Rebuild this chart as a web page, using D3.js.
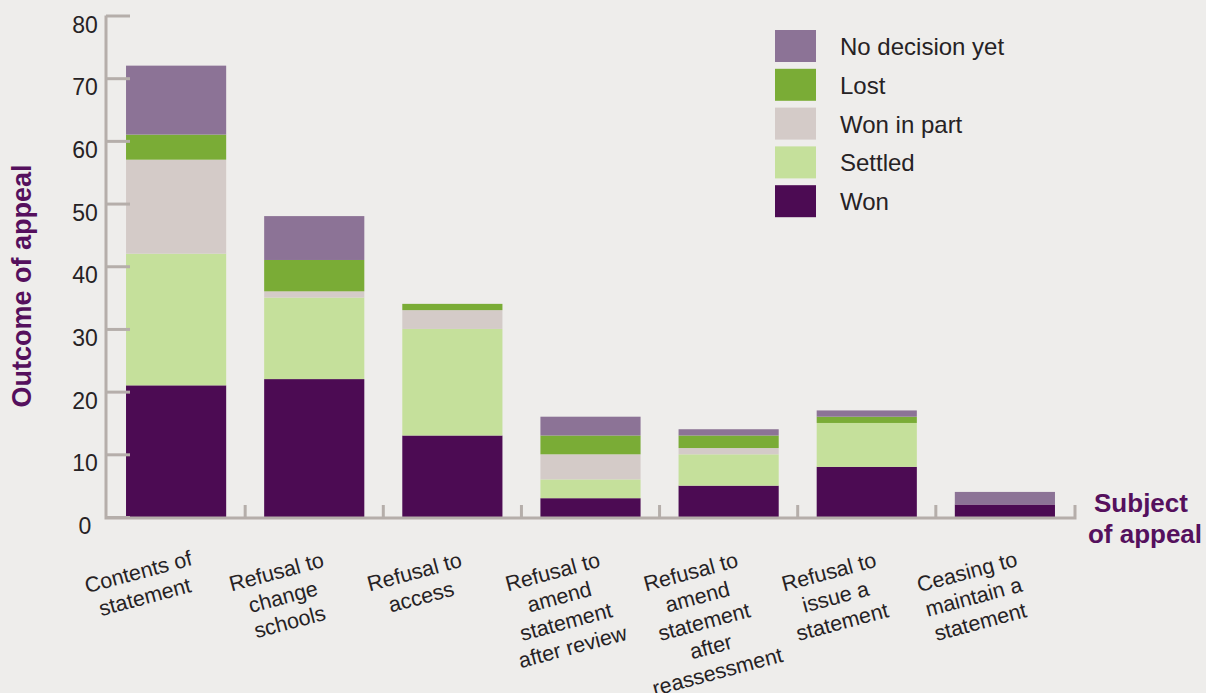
<!DOCTYPE html>
<html>
<head>
<meta charset="utf-8">
<script src="https://cdn.jsdelivr.net/npm/d3@7"></script>
<style>
  html, body { margin: 0; padding: 0; background: #eeedeb; }
  svg { display: block; font-family: "Liberation Sans", Arial, sans-serif; }
</style>
</head>
<body>
<div class="js-vis"></div>
<script>
// Subjects of appeal (line breaks as drawn under each bar)
const categories = [
  ["Contents of", "statement"],
  ["Refusal to", "change", "schools"],
  ["Refusal to", "access"],
  ["Refusal to", "amend", "statement", "after review"],
  ["Refusal to", "amend", "statement", "after", "reassessment"],
  ["Refusal to", "issue a", "statement"],
  ["Ceasing to", "maintain a", "statement"]
]

// Outcomes, one value per subject
const won        = [21, 22, 13, 3, 5, 8, 2]
const settled    = [21, 13, 17, 3, 5, 7, 0]
const wonInPart  = [15, 1, 3, 4, 1, 0, 0]
const lost       = [4, 5, 1, 3, 2, 1, 0]
const noDecision = [11, 7, 0, 3, 1, 1, 2]

const seriesNames = ["Won", "Settled", "Won in part", "Lost", "No decision yet"]
const yTicks = [0, 10, 20, 30, 40, 50, 60, 70, 80]

const colors = {
  "Won": "#4c0b53",
  "Settled": "#c5e09b",
  "Won in part": "#d4cbc8",
  "Lost": "#7aac36",
  "No decision yet": "#8c7396"
}

const width = 1206, height = 693
const axisColor = "#b5aeaa", textColor = "#262224", titleColor = "#55105d"

const rows = categories.map((c, i) => ({
  key: i,
  "Won": won[i],
  "Settled": settled[i],
  "Won in part": wonInPart[i],
  "Lost": lost[i],
  "No decision yet": noDecision[i]
}))

const stacked = d3.stack().keys(seriesNames)(rows)

const x = d3.scaleBand()
  .domain(d3.range(categories.length))
  .range([106, 1075])
  .paddingInner(0.275)
  .paddingOuter(0.145)

const y = d3.scaleLinear()
  .domain([0, 80])
  .range([517, 15.5])

const svg = d3.select(".js-vis").append("svg")
  .attr("width", width)
  .attr("height", height)

svg.append("rect")
  .attr("width", width).attr("height", height)
  .attr("fill", "#eeedeb")

// bars
svg.append("g").selectAll("g")
  .data(stacked)
.enter().append("g")
  .attr("fill", d => colors[d.key])
.selectAll("rect")
  .data(d => d)
.enter().append("rect")
  .attr("x", (d, i) => x(i))
  .attr("width", x.bandwidth())
  .attr("y", d => y(d[1]))
  .attr("height", d => y(d[0]) - y(d[1]))

// y axis: ticks point into the plot, labels centred to the left
const yax = d3.axisLeft(y)
  .tickValues(yTicks)
  .tickSizeInner(-24)
  .tickSizeOuter(0)
  .tickPadding(0)

const gy = svg.append("g")
  .attr("transform", "translate(106,0)")
  .call(yax)

gy.select(".domain").remove()
gy.selectAll(".tick line")
  .attr("stroke", axisColor)
  .attr("stroke-width", 3)
gy.selectAll(".tick text")
  .attr("x", -21)
  .attr("dy", "0.72em")
  .attr("text-anchor", "middle")
  .attr("fill", textColor)
  .style("font-size", "23px")
  .style("font-family", "'Liberation Sans', Arial, sans-serif")

// axis frame (left line + baseline)
const step = x.step(), gap = step * x.paddingInner()
svg.append("path")
  .attr("d", "M106," + y(80) + "V" + (y(0) + 1) + "H" + (x.range()[1]) + "V" + (y(0) - 12))
  .attr("fill", "none")
  .attr("stroke", axisColor)
  .attr("stroke-width", 3)

// category separators on the baseline
svg.append("g").selectAll("line")
  .data(d3.range(1, categories.length))
.enter().append("line")
  .attr("x1", i => x(i) - gap / 2)
  .attr("x2", i => x(i) - gap / 2)
  .attr("y1", y(0) + 1)
  .attr("y2", y(0) - 12)
  .attr("stroke", axisColor)
  .attr("stroke-width", 3)

// category labels, rotated
const labels = svg.append("g").selectAll("text")
  .data(categories)
.enter().append("text")
  .attr("transform", (d, i) => "translate(" + (x(i) + x.bandwidth() / 2 - 36) + ",579) rotate(-15)")
  .attr("text-anchor", "middle")
  .attr("fill", textColor)
  .style("font-size", "21.5px")

labels.selectAll("tspan")
  .data(d => d)
.enter().append("tspan")
  .attr("x", 0)
  .attr("dy", (d, i) => i === 0 ? 0 : "1.2em")
  .text(d => d)

// axis titles
svg.append("text")
  .attr("transform", "translate(31,286) rotate(-90)")
  .attr("text-anchor", "middle")
  .attr("fill", titleColor)
  .style("font-size", "27px")
  .style("font-weight", "bold")
  .text("Outcome of appeal")

svg.append("text")
  .attr("text-anchor", "middle")
  .attr("fill", titleColor)
  .style("font-size", "26px")
  .style("font-weight", "bold")
.selectAll("tspan")
  .data(["Subject", "of appeal"])
.enter().append("tspan")
  .attr("x", (d, i) => i === 0 ? 1141 : 1145)
  .attr("y", (d, i) => 512 + i * 31)
  .text(d => d)

// legend, top entry is the top of the stack
const legendKeys = seriesNames.slice().reverse()
const legend = svg.append("g").selectAll("g")
  .data(legendKeys)
.enter().append("g")
  .attr("transform", (d, i) => "translate(775," + (30 + i * 38.8) + ")")

legend.append("rect")
  .attr("width", 41)
  .attr("height", 32)
  .attr("fill", d => colors[d])

legend.append("text")
  .attr("x", 65)
  .attr("y", 25)
  .attr("fill", textColor)
  .style("font-size", "24px")
  .text(d => d)
</script>
</body>
</html>
